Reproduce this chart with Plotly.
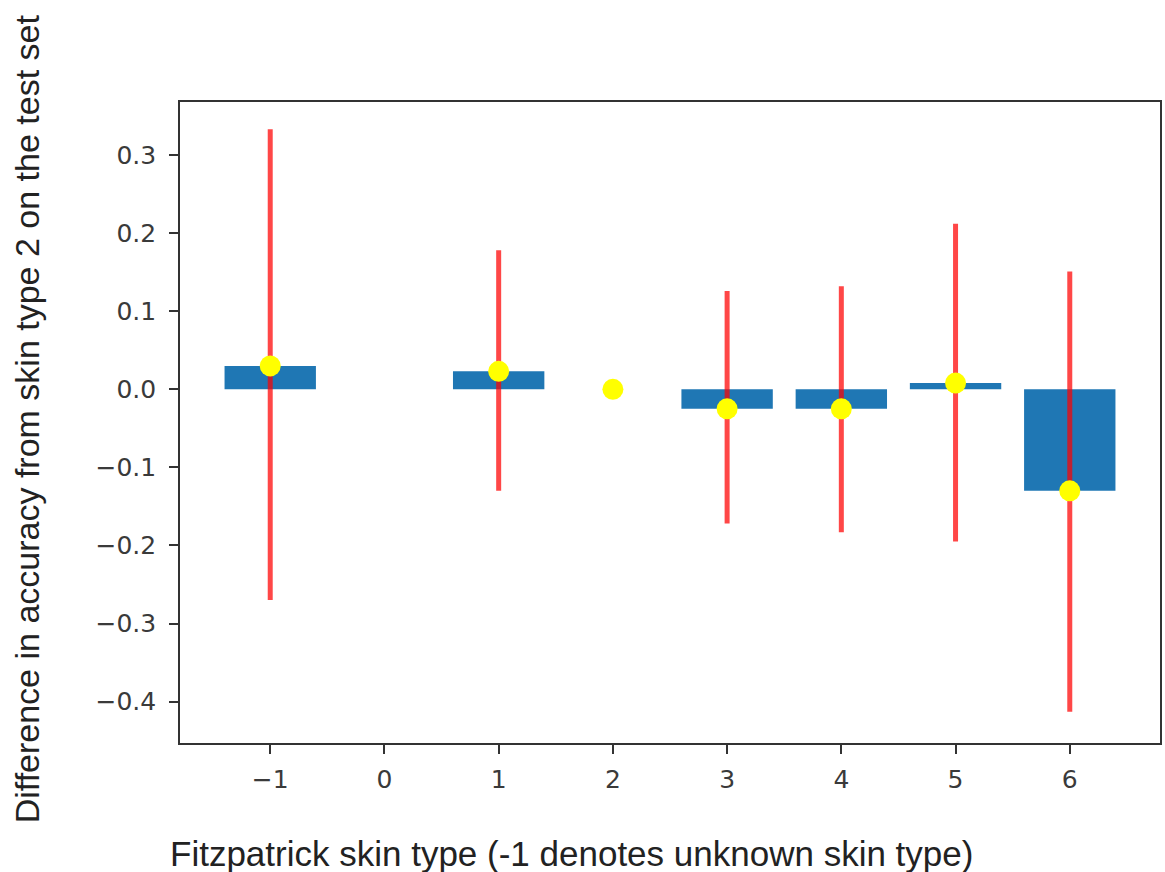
import plotly.graph_objects as go

skin_types = [-1, 1, 2, 3, 4, 5, 6]
diff_values = [0.030, 0.023, 0.0, -0.025, -0.025, 0.008, -0.130]
ci_upper = [0.333, 0.178, 0.0, 0.126, 0.132, 0.212, 0.151]
ci_lower = [-0.270, -0.130, 0.0, -0.172, -0.183, -0.195, -0.413]

x_tick_vals = [-1, 0, 1, 2, 3, 4, 5, 6]
x_tick_text = ["\u22121", "0", "1", "2", "3", "4", "5", "6"]
y_tick_vals = [0.3, 0.2, 0.1, 0.0, -0.1, -0.2, -0.3, -0.4]
y_tick_text = ["0.3", "0.2", "0.1", "0.0", "\u22120.1", "\u22120.2", "\u22120.3", "\u22120.4"]

err_plus = [u - v for u, v in zip(ci_upper, diff_values)]
err_minus = [v - l for v, l in zip(diff_values, ci_lower)]

fig = go.Figure()
fig.add_trace(go.Bar(
    x=skin_types, y=diff_values, width=0.8,
    marker=dict(color="#1f77b4", line=dict(width=0)),
    showlegend=False, hoverinfo="skip",
))
fig.add_trace(go.Scatter(
    x=skin_types, y=diff_values, mode="markers",
    marker=dict(color="#ffff00", size=21, line=dict(width=0)),
    error_y=dict(type="data", symmetric=False, array=err_plus, arrayminus=err_minus,
                 color="rgba(255,0,0,0.72)", thickness=5, width=0),
    showlegend=False,
))

axis_common = dict(
    showline=True, linecolor="#333333", linewidth=1.6, mirror=True,
    ticks="outside", ticklen=9, tickwidth=1.6, tickcolor="#333333",
    showgrid=False, zeroline=False,
    tickfont=dict(family="DejaVu Sans", size=25, color="#3a3a3a"),
)

fig.update_layout(
    width=1165, height=872,
    margin=dict(l=180, r=3, t=102, b=129),
    plot_bgcolor="white", paper_bgcolor="white",
    xaxis=dict(range=[-1.79, 6.79], tickvals=x_tick_vals, ticktext=x_tick_text,
               ticklabelstandoff=4, **axis_common),
    yaxis=dict(range=[-0.453, 0.368], tickvals=y_tick_vals, ticktext=y_tick_text,
               ticklabelstandoff=8, **axis_common),
    annotations=[
        dict(text="Fitzpatrick skin type (-1 denotes unknown skin type)",
             xref="paper", yref="paper", x=(572 - 180) / (1162 - 180), y=(743 - 853) / (743 - 102),
             xanchor="center", yanchor="middle", showarrow=False,
             font=dict(family="Liberation Sans", size=35, color="#222222")),
        dict(text="Difference in accuracy from skin type 2 on the test set",
             xref="paper", yref="paper", x=(27 - 180) / (1162 - 180), y=(743 - 419) / (743 - 102),
             xanchor="center", yanchor="middle", showarrow=False, textangle=-90,
             font=dict(family="Liberation Sans", size=34, color="#222222")),
    ],
)

fig.write_html("out.html", config={"displayModeBar": False},
               post_script="document.body.style.margin='0';document.body.style.overflow='hidden';")
